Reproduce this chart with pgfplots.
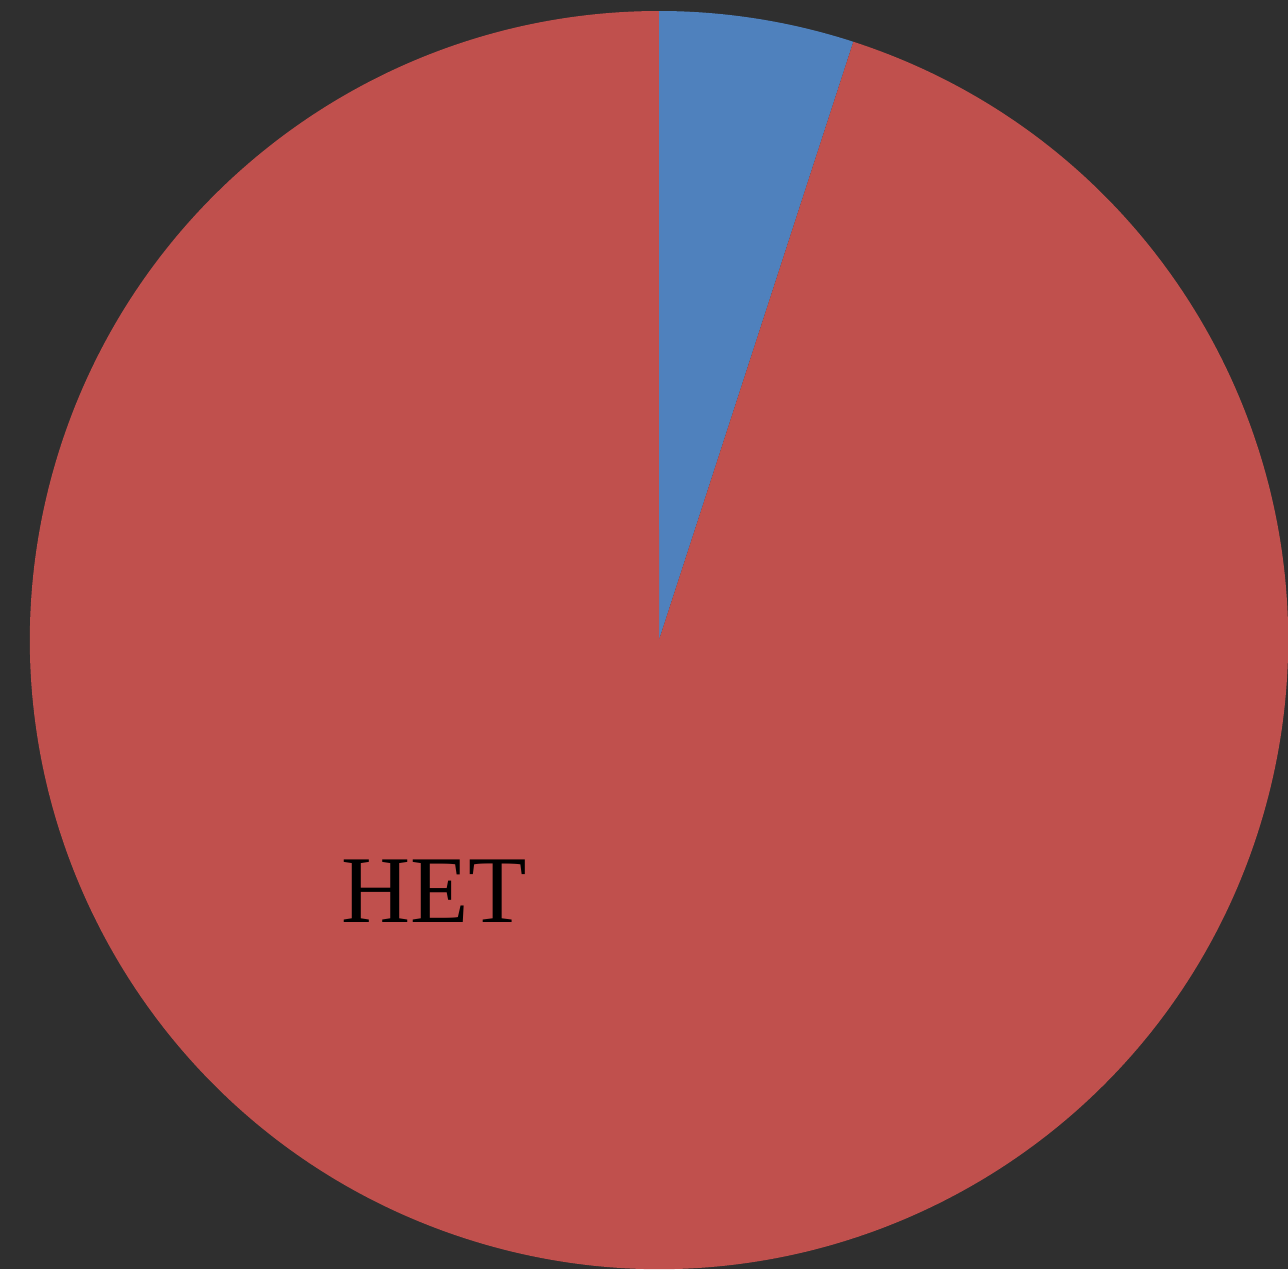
\documentclass[border=0pt]{standalone}
\usepackage{fontspec}
\setmainfont{Liberation Serif}
\usepackage{pgfplots}
\pgfplotsset{compat=1.18}
\definecolor{bg}{HTML}{2F2F2F}
\definecolor{sblue}{HTML}{4F81BD}
\definecolor{sred}{HTML}{C0504D}
% slice values (percent)
\def\valA{5}
\def\valB{95}
\begin{document}
\begin{tikzpicture}
\fill[bg, use as bounding box] (0,0) rectangle (12.88cm,12.69cm);
\pgfmathsetmacro{\angA}{90-\valA/(\valA+\valB)*360}
\pgfmathsetmacro{\angB}{\angA-\valB/(\valA+\valB)*360}
\begin{axis}[at={(6.59cm,6.29cm)}, anchor=center, scale only axis,
  width=12.58cm, height=12.58cm, xmin=-1, xmax=1, ymin=-1, ymax=1,
  hide axis, clip=false]
\fill[sblue] (axis cs:0,0) -- (axis cs:0,1) arc[start angle=90, end angle=\angA, radius=1] -- cycle;
\fill[sred] (axis cs:0,0) -- (axis cs:{cos(\angA)},{sin(\angA)}) arc[start angle=\angA, end angle=\angB, radius=1] -- cycle;
\node[text=black] at (axis cs:-0.357,-0.400) {\fontsize{27.2}{30}\selectfont НЕТ};
\end{axis}
\end{tikzpicture}
\end{document}
